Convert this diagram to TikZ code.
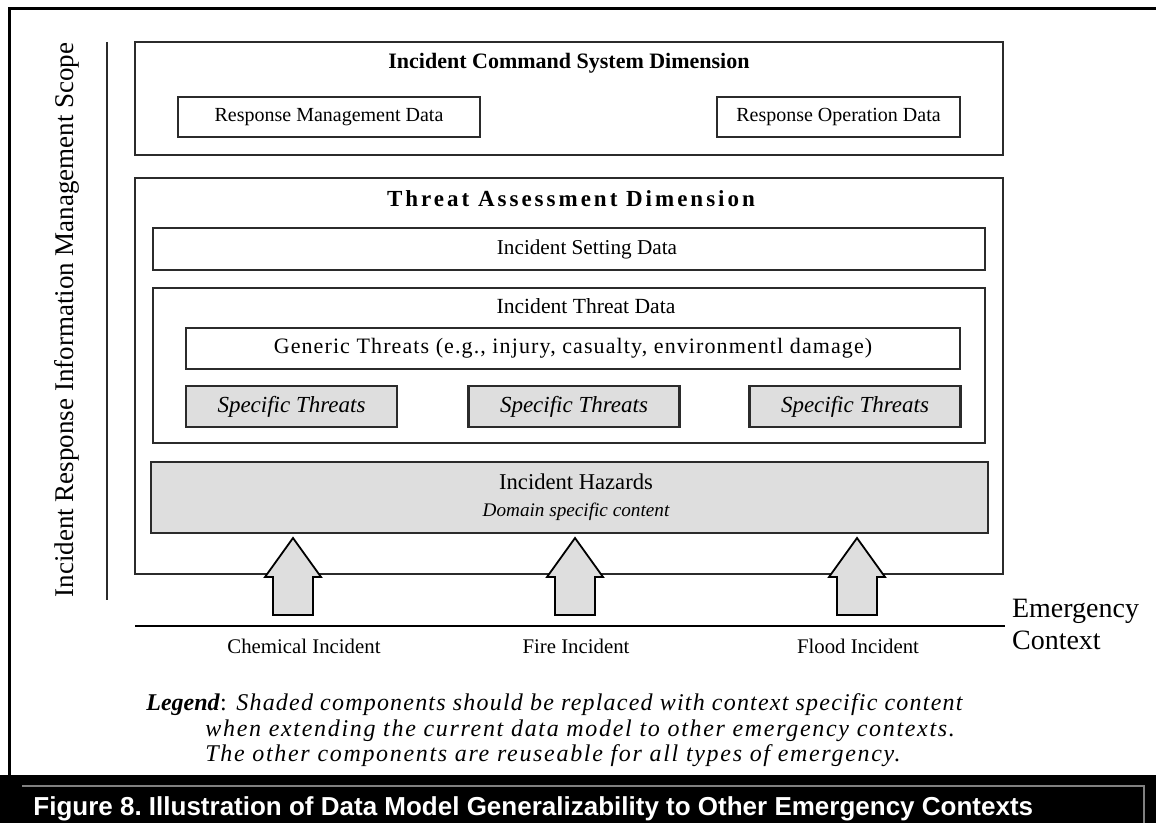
\documentclass[tikz,border=0pt]{standalone}
\usepackage{fontspec}
\setmainfont{Liberation Serif}
\newfontfamily\capfont{Liberation Sans}
\usetikzlibrary{positioning}
\definecolor{boxline}{HTML}{2B2B2B}
\definecolor{shade}{HTML}{DEDEDE}
\frenchspacing

\begin{document}
\begin{tikzpicture}[x=0.5pt, y=-0.5pt,
		box/.style={draw=boxline, line width=1.1pt, rectangle, inner sep=0pt},
		shaded/.style={box, fill=shade},
		dimtitle/.style={font=\fontsize{11}{13}\selectfont\bfseries},
		txt/.style={font=\fontsize{10}{12}\selectfont},
		big/.style={font=\fontsize{14}{16}\selectfont},
		legendline/.style={anchor=base west, inner sep=0pt, font=\fontsize{12}{14}\selectfont\itshape\addfontfeatures{LetterSpace=7}}]
	\useasboundingbox (0,0) rectangle (1156,823);
	% frame and caption bar
	\fill[black] (0,775) rectangle (1156,823);
	\draw[line width=1.5pt] (9,775) -- (9,9) -- (1156,9);
	\draw[gray, line width=0.6pt] (22,786) -- (1144,786) -- (1144,823);
	\node[anchor=base west, inner sep=0pt, text=white, font=\capfont\bfseries\fontsize{13}{15}\selectfont] (caption) at (33,815) {Figure 8. Illustration of Data Model Generalizability to Other Emergency Contexts};
	% scope axis
	\node[rotate=90, font=\fontsize{13.5}{16}\selectfont] (scope) at (67,320) {Incident Response Information Management Scope};
	\coordinate (scopetop) at (107,42);
	\coordinate (scopebot) at (107,600);
	\draw[boxline, line width=0.9pt] (scopetop) -- (scopebot);
	% incident command system
	\node[box, minimum width=434pt, minimum height=56.5pt] (ics) at (569,98.5) {};
	\node[dimtitle] (icstitle) at (569,63) {Incident Command System Dimension};
	\node[box, txt, minimum width=151pt, minimum height=20pt] (respmgmt) at (329,117) {Response Management Data};
	\node[box, txt, minimum width=121.5pt, minimum height=20pt] (respop) at (838.5,117) {Response Operation Data};
	% threat assessment
	\node[box, minimum width=434pt, minimum height=198pt] (ta) at (569,376) {};
	\node[dimtitle, font=\fontsize{11.5}{13}\selectfont\bfseries\addfontfeatures{LetterSpace=13}] (tatitle) at (571,199) {Threat Assessment Dimension};
	\node[box, minimum width=416pt, minimum height=21pt] (setting) at (569,249) {};
	\node[txt, font=\fontsize{10.6}{12}\selectfont] (settinglabel) at (587,249) {Incident Setting Data};
	\node[box, minimum width=416pt, minimum height=77.5pt] (threatdata) at (569,365.5) {};
	\node[txt, font=\fontsize{10.8}{12}\selectfont] (threatlabel) at (586,306) {Incident Threat Data};
	\node[box, txt, font=\fontsize{11}{12}\selectfont\addfontfeatures{LetterSpace=5}, minimum width=387pt, minimum height=20.5pt] (generic) at (573,348.5) {Generic Threats (e.g., injury, casualty, environmentl damage)};
	\foreach \name/\cx in {speca/291.5, specb/574, specc/855}
		\node[shaded, font=\fontsize{11.5}{13}\selectfont\itshape, minimum width=105.5pt, minimum height=20.5pt] (\name) at (\cx,406.5) {Specific Threats};
	\node[shaded, minimum width=418.5pt, minimum height=35.5pt] (hazards) at (569.5,497.5) {};
	\node[txt, font=\fontsize{11.3}{13}\selectfont] (hazlabel) at (576,482) {Incident Hazards};
	\node[txt, font=\fontsize{9.6}{12}\selectfont\itshape] (hazsub) at (576,512) {Domain specific content};
	% context arrows and labels
	\foreach \cx in {293,575,857}
		\filldraw[fill=shade, draw=black, line width=0.9pt] (\cx,538) -- (\cx+28,577) -- (\cx+20,577) -- (\cx+20,615) -- (\cx-20,615) -- (\cx-20,577) -- (\cx-28,577) -- cycle;
	\coordinate (ctxleft) at (135,626);
	\coordinate (ctxright) at (1005,626);
	\draw[line width=1.2pt] (ctxleft) -- (ctxright);
	\node[txt, font=\fontsize{10.4}{12}\selectfont] (chem) at (304,646) {Chemical Incident};
	\node[txt, font=\fontsize{10.4}{12}\selectfont] (fire) at (576,646) {Fire Incident};
	\node[txt, font=\fontsize{10.4}{12}\selectfont] (flood) at (858,646) {Flood Incident};
	\node[big, anchor=west, align=left] (context) at (1005,624) {Emergency\\Context};
	% legend
	\node[anchor=base west, inner sep=0pt, font=\fontsize{12}{14}\selectfont\itshape] (legendkey) at (146,710) {\textbf{Legend}\textup{:}};
	\node[legendline, font=\fontsize{12}{14}\selectfont\itshape\addfontfeatures{LetterSpace=5}] (legenda) at (236,710) {Shaded components should be replaced with context specific content};
	\node[legendline] (legendb) at (205,736) {when extending the current data model to other emergency contexts.};
	\node[legendline] (legendc) at (205,761) {The other components are reuseable for all types of emergency.};
\end{tikzpicture}
\end{document}
